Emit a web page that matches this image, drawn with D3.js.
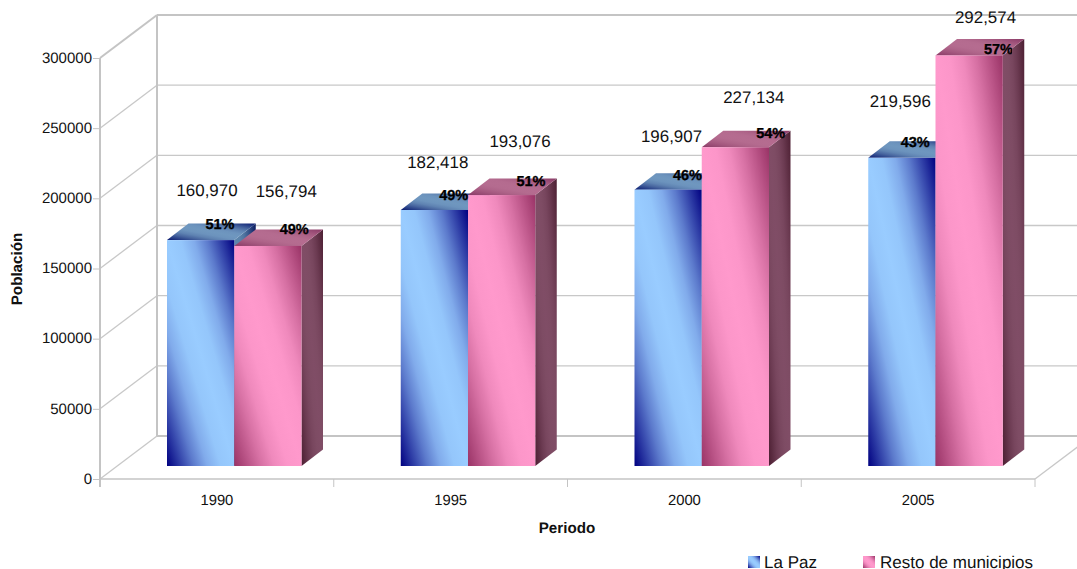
<!DOCTYPE html>
<html><head><meta charset="utf-8">
<style>
html,body{margin:0;padding:0;background:#fff;overflow:hidden}
svg{display:block}
text{font-family:"Liberation Sans",Arial,sans-serif;fill:#111;text-rendering:geometricPrecision}
</style>
<script src="https://cdn.jsdelivr.net/npm/d3@7/dist/d3.min.js"></script>
</head><body>
<script>
const periods = ["1990","1995","2000","2005"];
const seriesNames = ["La Paz","Resto de municipios"];
const laPaz = [160970,182418,196907,219596];
const resto = [156794,193076,227134,292574];
const laPazPct = ["51%","49%","46%","43%"];
const restoPct = ["49%","51%","54%","57%"];
const yTicks = [0,50000,100000,150000,200000,250000,300000];

// label placement relative to the bar's top-left front corner (free-floating in the source)
const valueNudge = [[[40,-50],[52,-55]],[[37,-48],[52,-54]],[[37,-54],[52,-50]],[[32,-57],[50,-39]]];
const pctNudge = [[[53,-16],[60,-17]],[[53,-15],[63,-14]],[[53,-15],[69,-14]],[[47,-16],[63,-7]]];

const W=1077,H=569;
const svg=d3.select("body").append("svg").attr("width",W).attr("height",H);
const defs=svg.append("defs");

const wall={dx:57,dy:-43}, barPlane={dy:-13}, barDepth={dx:21.5,dy:-16.5};
const x=d3.scaleBand().domain(periods).range([100,1035]);
const xInner=d3.scaleBand().domain(seriesNames).range([67,201.5]);
const y=d3.scaleLinear().domain([0,300000]).range([479,58]);

function grad(id,dark,light){
  const g=defs.append("linearGradient").attr("id",id)
    .attr("x1",1).attr("y1",0).attr("x2",0).attr("y2",1);
  const mix=d3.interpolateRgb(dark,light);
  [[0,0],[.1,.3],[.2,.6],[.3,.84],[.4,.97],[.5,1],[.6,.97],[.7,.84],[.8,.6],[.9,.3],[1,0]].forEach(([o,m])=>
    g.append("stop").attr("offset",o).attr("stop-color",mix(m)));
}
grad("bFront","#000080","#99CCFF");
grad("bTop","#0a1a70","#6F97BF");
grad("bSide","#0a1a60","#5d86ad");
grad("pFront","#993366","#FF99CC");
grad("pTop","#8a3a66","#B56C90");
grad("pSide","#4D1F33","#804D66");
defs.append("clipPath").attr("id","pctClip").append("rect")
  .attr("x",0).attr("y",0).attr("width",1012).attr("height",H);

const GRID="#c8c8c8", WALL="#c4c4c4";
const gWalls=svg.append("g").attr("fill","none");

// back wall grid and wall diagonals
gWalls.selectAll("line.back").data(yTicks).join("line").attr("class","back")
  .attr("x1",100+wall.dx).attr("x2",1035+wall.dx)
  .attr("y1",d=>y(d)+wall.dy).attr("y2",d=>y(d)+wall.dy)
  .attr("stroke",d=>(d===0||d===300000)?WALL:GRID)
  .attr("stroke-width",d=>(d===0||d===300000)?2:1.3);
gWalls.selectAll("line.diag").data(yTicks).join("line").attr("class","diag")
  .attr("x1",100).attr("x2",100+wall.dx)
  .attr("y1",d=>y(d)).attr("y2",d=>y(d)+wall.dy)
  .attr("stroke",d=>d===300000?WALL:GRID)
  .attr("stroke-width",d=>d===300000?2:1.3);
gWalls.append("line").attr("x1",100+wall.dx).attr("x2",100+wall.dx)
  .attr("y1",y(300000)+wall.dy).attr("y2",y(0)+wall.dy)
  .attr("stroke",WALL).attr("stroke-width",2);
gWalls.append("line").attr("x1",1035).attr("x2",1035+wall.dx)
  .attr("y1",y(0)).attr("y2",y(0)+wall.dy).attr("stroke",GRID).attr("stroke-width",1.3);

// axes
const axL=svg.append("g").attr("transform","translate(100,0)")
  .call(d3.axisLeft(y).tickValues(yTicks).tickSize(7).tickPadding(1).tickFormat(d3.format("d")));
axL.select(".domain").remove();
axL.selectAll(".tick line").attr("stroke",WALL).attr("stroke-width",1);
axL.selectAll("text").style("font-size","15px").attr("dy","0.28em").attr("font-family",null);

const axB=svg.append("g").attr("transform",`translate(0,${y(0)})`)
  .call(d3.axisBottom(x).tickSize(0).tickPadding(15.5));
axB.select(".domain").remove();
axB.selectAll(".tick line").remove();
axB.selectAll("text").style("font-size","14.8px").attr("font-family",null);
svg.append("line").attr("x1",100).attr("x2",1035).attr("y1",y(0)).attr("y2",y(0))
  .attr("stroke",WALL).attr("stroke-width",1.6);
svg.append("line").attr("x1",100).attr("x2",100).attr("y1",y(300000)).attr("y2",y(0)+8)
  .attr("stroke",WALL).attr("stroke-width",2);
svg.selectAll("line.cat").data(periods).join("line").attr("class","cat")
  .attr("x1",d=>x(d)+x.bandwidth()).attr("x2",d=>x(d)+x.bandwidth())
  .attr("y1",y(0)).attr("y2",y(0)+8).attr("stroke",WALL).attr("stroke-width",1);

// bars
const rows=[];
periods.forEach((p,i)=>{
  rows.push({p,i,s:0,v:laPaz[i],pct:laPazPct[i]});
  rows.push({p,i,s:1,v:resto[i],pct:restoPct[i]});
});
const pre=["b","p"];
const gBars=svg.append("g");
rows.forEach(r=>{
  const x0=x(r.p)+xInner(seriesNames[r.s]), w=xInner.bandwidth();
  const x1=x0+w, yT=y(r.v)+barPlane.dy, yB=y(0)+barPlane.dy;
  r.x0=x0; r.yT=yT;
  const dx=barDepth.dx, dy=barDepth.dy;
  const g=gBars.append("g");
  g.append("path").attr("d",`M${x1},${yT}L${x1+dx},${yT+dy}L${x1+dx},${yB+dy}L${x1},${yB}Z`)
    .attr("fill",`url(#${pre[r.s]}Side)`);
  g.append("path").attr("d",`M${x0},${yT}L${x0+dx},${yT+dy}L${x1+dx},${yT+dy}L${x1},${yT}Z`)
    .attr("fill",`url(#${pre[r.s]}Top)`);
  g.append("rect").attr("x",x0).attr("y",yT).attr("width",w).attr("height",yB-yT)
    .attr("fill",`url(#${pre[r.s]}Front)`);
});

// labels
svg.append("g").selectAll("text").data(rows).join("text")
  .attr("x",d=>d.x0+valueNudge[d.i][d.s][0])
  .attr("y",d=>d.yT+valueNudge[d.i][d.s][1])
  .attr("dy",".36em").attr("text-anchor","middle")
  .style("font-size","16.9px")
  .text(d=>d3.format(",")(d.v));
svg.append("g").attr("clip-path","url(#pctClip)").selectAll("text").data(rows).join("text")
  .attr("x",d=>d.x0+pctNudge[d.i][d.s][0])
  .attr("y",d=>d.yT+pctNudge[d.i][d.s][1])
  .attr("dy",".36em").attr("text-anchor","middle")
  .style("font-size","14.5px").style("font-weight","bold")
  .style("fill","#000").style("stroke","#000").style("stroke-width","0.3px")
  .text(d=>d.pct);

// titles
svg.append("text").attr("transform","translate(22,269) rotate(-90)").attr("text-anchor","middle")
  .style("font-size","15.2px").style("font-weight","bold").text("Población");
svg.append("text").attr("x",567).attr("y",533).attr("text-anchor","middle")
  .style("font-size","15.2px").style("font-weight","bold").text("Periodo");

// legend
const lg=svg.append("g");
[[748,764],[863,880]].forEach(([sx,tx],i)=>{
  lg.append("rect").attr("x",sx).attr("y",556).attr("width",12).attr("height",12)
    .attr("fill",`url(#${pre[i]}Front)`);
  lg.append("text").attr("x",tx).attr("y",568).style("font-size","17px").text(seriesNames[i]);
});
</script>
</body></html>
